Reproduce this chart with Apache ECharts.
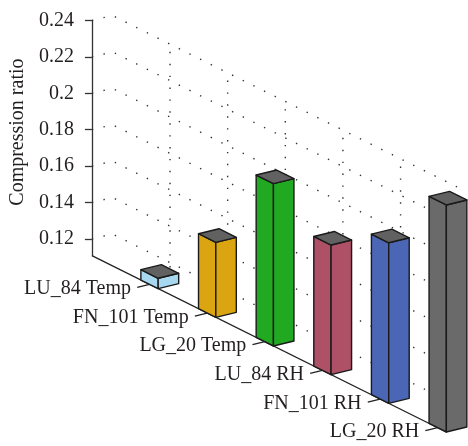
<!DOCTYPE html>
<html>
<head>
<meta charset="utf-8">
<script src="https://cdn.jsdelivr.net/npm/echarts@6/dist/echarts.min.js"></script>
<style>
html,body{margin:0;padding:0;background:#fff;}
#chart{width:468px;height:446px;}
</style>
</head>
<body>
<div id="chart"></div>
<script>
// ---- data ----
const categories = ['LU_84 Temp', 'FN_101 Temp', 'LG_20 Temp', 'LU_84 RH', 'FN_101 RH', 'LG_20 RH'];
const ratios = [0.1165, 0.152, 0.200, 0.182, 0.199, 0.2355];
const tickValues = [0.12, 0.14, 0.16, 0.18, 0.2, 0.22, 0.24];
const tickLabels = ['0.12', '0.14', '0.16', '0.18', '0.2', '0.22', '0.24'];
const barColors = ['#a8d8ef', '#dba512', '#22a922', '#ae5066', '#4a66b4', '#6a6a6a'];

// ---- view settings ----
const V_MIN = 0.1108, V_MAX = 0.24;
const X_MAX = 6;           // back wall extent in category units
const FLOOR_END = 6.15;    // front edge extent
const HALF_W = 0.15;       // half bar width (category units)
const SLOPE = 0.4974;      // screen drop per px along category direction
const DX = 20.5, DY = -5;  // depth vector (px) for full depth
const TOP_COLOR = '#616161';
const EDGE = '#1a1a1a';
const TEXT = '#231f20';
const FONT = 'Liberation Serif';

function proj(api, c, d, v) {
  const p = api.coord([c, v]);
  const o = api.coord([0, V_MIN]);
  return [p[0] + d * DX, p[1] + (p[0] - o[0]) * SLOPE + d * DY];
}

const dotted = { stroke: '#333333', lineWidth: 1.4, lineDash: [1.4, 10.5], fill: null };

const chart = echarts.init(document.getElementById('chart'), null, { renderer: 'canvas' });

const option = {
  animation: false,
  backgroundColor: '#ffffff',
  grid: { left: 86.7, right: 468 - 86.7 - 58.5 * X_MAX, top: 20.5, bottom: 190.3, containLabel: false },
  xAxis: { type: 'value', min: 0, max: X_MAX, show: false },
  yAxis: {
    type: 'value', min: V_MIN, max: V_MAX,
    name: 'Compression ratio', nameLocation: 'middle', nameGap: 60,
    nameTextStyle: { fontFamily: FONT, fontSize: 20, color: TEXT, padding: [0, 0, 0, 12] },
    axisLine: { show: true, lineStyle: { color: '#333', width: 1.3 } },
    axisTick: { show: true, length: 7, lineStyle: { color: '#333', width: 1.3 }, customValues: tickValues },
    axisLabel: {
      show: true, margin: 18, fontFamily: FONT, fontSize: 20, color: TEXT,
      customValues: tickValues,
      formatter: function (v) {
        const i = tickValues.findIndex(t => Math.abs(t - v) < 1e-9);
        return i >= 0 ? tickLabels[i] : '';
      }
    },
    splitLine: { show: false }
  },
  series: [
    // horizontal grid lines on the left and back walls
    {
      type: 'custom', z: 1, clip: false, silent: true,
      data: tickValues.map(t => [0, t]),
      renderItem: function (params, api) {
        const t = api.value(1);
        const pts = [proj(api, 0, 0, t), proj(api, 0, 1, t), proj(api, X_MAX, 1, t)];
        return { type: 'polyline', shape: { points: pts }, style: dotted };
      }
    },
    // vertical grid lines on the back wall
    {
      type: 'custom', z: 1, clip: false, silent: true,
      data: categories.map((c, i) => [i + 1, V_MIN]),
      renderItem: function (params, api) {
        const c = api.value(0);
        const a = proj(api, c, 1, V_MIN), b = proj(api, c, 1, V_MAX);
        return { type: 'line', shape: { x1: a[0], y1: a[1], x2: b[0], y2: b[1] }, style: dotted };
      }
    },
    // front floor edge
    {
      type: 'custom', z: 2, clip: false, silent: true,
      data: [[FLOOR_END, V_MIN]],
      renderItem: function (params, api) {
        const a = proj(api, 0, 0, V_MIN), b = proj(api, api.value(0), 0, V_MIN);
        return { type: 'line', shape: { x1: a[0], y1: a[1], x2: b[0], y2: b[1] },
          style: { stroke: '#222', lineWidth: 1.3 } };
      }
    },
    // bars
    {
      type: 'custom', z: 3, clip: false,
      data: ratios.map((v, i) => [i + 1, v]),
      renderItem: function (params, api) {
        const c = api.value(0), v = api.value(1);
        const c0 = c - HALF_W, c1 = c + HALF_W;
        const col = barColors[params.dataIndex];
        const es = { stroke: EDGE, lineWidth: 1.4, lineJoin: 'round' };
        const front = [proj(api, c0, 0, V_MIN), proj(api, c1, 0, V_MIN), proj(api, c1, 0, v), proj(api, c0, 0, v)];
        const side = [proj(api, c1, 0, V_MIN), proj(api, c1, 1, V_MIN), proj(api, c1, 1, v), proj(api, c1, 0, v)];
        const top = [proj(api, c0, 0, v), proj(api, c1, 0, v), proj(api, c1, 1, v), proj(api, c0, 1, v)];
        return {
          type: 'group',
          children: [
            { type: 'polygon', shape: { points: front }, style: Object.assign({ fill: col }, es) },
            { type: 'polygon', shape: { points: side }, style: Object.assign({ fill: col }, es) },
            { type: 'polygon', shape: { points: top }, style: Object.assign({ fill: TOP_COLOR }, es) }
          ]
        };
      }
    },
    // category ticks and labels
    {
      type: 'custom', z: 4, clip: false, silent: true,
      data: categories.map((c, i) => [i + 1, V_MIN]),
      renderItem: function (params, api) {
        const c = api.value(0);
        const p = proj(api, c, 0, V_MIN);
        return {
          type: 'group',
          children: [
            { type: 'line', shape: { x1: p[0], y1: p[1], x2: p[0] - 0.6 * DX, y2: p[1] - 0.6 * DY },
              style: { stroke: '#222', lineWidth: 1.3 } },
            { type: 'text', x: p[0] - 18.5, y: p[1] + 4.5,
              style: { text: categories[params.dataIndex], fill: TEXT, font: '20px "' + FONT + '"',
                align: 'right', verticalAlign: 'middle' } }
          ]
        };
      }
    }
  ]
};
chart.setOption(option);
</script>
</body>
</html>
